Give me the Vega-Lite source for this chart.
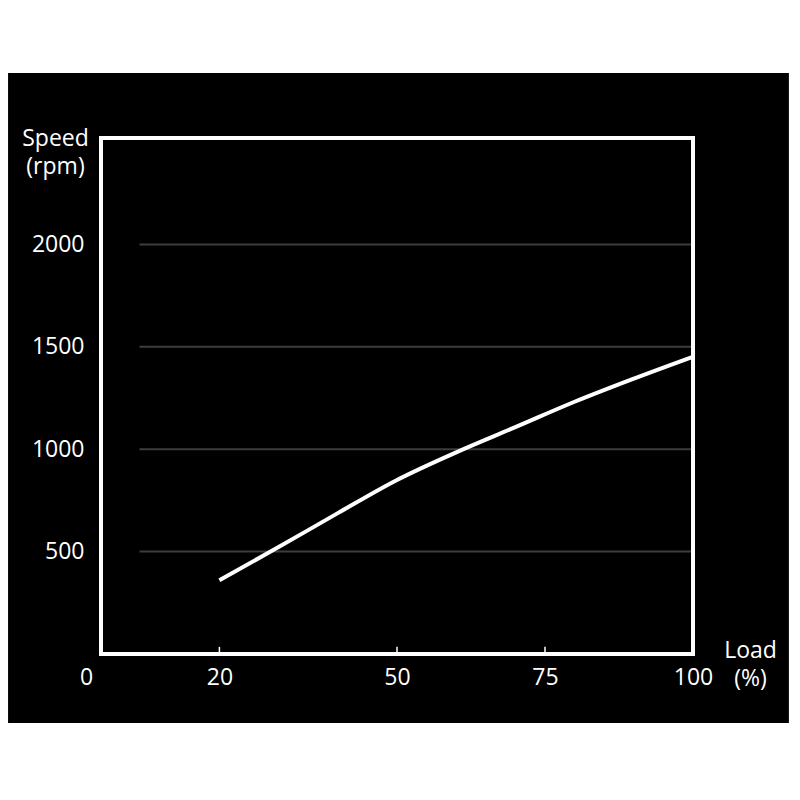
{
  "$schema": "https://vega.github.io/schema/vega-lite/v6.json",
  "autosize": {"type": "none"},
  "padding": {"left": 101, "top": 138, "right": 107, "bottom": 146},
  "width": 592,
  "height": 516,
  "background": "white",
  "config": {
    "font": "Open Sans",
    "view": {"stroke": null}
  },
  "layer": [
    {
      "data": {"values": [{"panel": "backdrop"}]},
      "mark": {"type": "rect", "color": "black"},
      "encoding": {
        "x": {"datum": -15.7, "type": "quantitative", "scale": {"domain": [0, 100], "nice": false}},
        "x2": {"datum": 116.2},
        "y": {"datum": 2837, "type": "quantitative", "scale": {"domain": [0, 2520], "nice": false}},
        "y2": {"datum": -337}
      }
    },
    {
      "data": {"values": [{"speed": 500}, {"speed": 1000}, {"speed": 1500}, {"speed": 2000}]},
      "mark": {"type": "rule", "color": "#3d3d3d", "strokeWidth": 2},
      "encoding": {
        "x": {"datum": 6.5, "type": "quantitative"},
        "x2": {"datum": 100},
        "y": {"field": "speed", "type": "quantitative"}
      }
    },
    {
      "data": {"values": [{"load": 20}, {"load": 50}, {"load": 75}]},
      "mark": {"type": "rule", "color": "white", "strokeWidth": 1.5},
      "encoding": {
        "x": {"field": "load", "type": "quantitative"},
        "y": {"datum": 0, "type": "quantitative"},
        "y2": {"datum": 35}
      }
    },
    {
      "data": {"values": [
        {"load": 20, "speed": 360},
        {"load": 30, "speed": 522},
        {"load": 40, "speed": 688},
        {"load": 50, "speed": 850},
        {"load": 60, "speed": 985},
        {"load": 70, "speed": 1108},
        {"load": 80, "speed": 1232},
        {"load": 90, "speed": 1345},
        {"load": 100, "speed": 1452}
      ]},
      "mark": {"type": "line", "color": "white", "strokeWidth": 4, "interpolate": "monotone"},
      "encoding": {
        "x": {
          "field": "load",
          "type": "quantitative",
          "axis": {
            "values": [0, 20, 50, 75, 100],
            "zindex": 1,
            "grid": false,
            "domain": false,
            "ticks": false,
            "labelFlush": false,
            "labelColor": "white",
            "labelFontSize": 23,
            "labelPadding": 12,
            "labelOffset": {"condition": {"test": "datum.value === 0", "value": -15}, "value": 0},
            "title": ["Load", "(%)"],
            "titleColor": "white",
            "titleFontSize": 23,
            "titleFontWeight": "normal",
            "titleLineHeight": 28,
            "titleAlign": "center",
            "titleBaseline": "top",
            "titleAnchor": null,
            "titleX": 649,
            "titleY": -15
          }
        },
        "y": {
          "field": "speed",
          "type": "quantitative",
          "axis": {
            "values": [500, 1000, 1500, 2000],
            "format": "d",
            "zindex": 1,
            "grid": false,
            "domain": false,
            "ticks": false,
            "labelColor": "white",
            "labelFontSize": 23,
            "labelPadding": 17,
            "title": ["Speed", "(rpm)"],
            "titleColor": "white",
            "titleFontSize": 23,
            "titleFontWeight": "normal",
            "titleLineHeight": 28,
            "titleAngle": 0,
            "titleAlign": "center",
            "titleBaseline": "top",
            "titleAnchor": null,
            "titleX": -46,
            "titleY": -11
          }
        }
      }
    },
    {
      "data": {"values": [{"panel": "frame"}]},
      "mark": {"type": "rect", "fill": null, "stroke": "white", "strokeWidth": 4},
      "encoding": {
        "x": {"datum": 0, "type": "quantitative"},
        "x2": {"datum": 100},
        "y": {"datum": 0, "type": "quantitative"},
        "y2": {"datum": 2520}
      }
    }
  ]
}
